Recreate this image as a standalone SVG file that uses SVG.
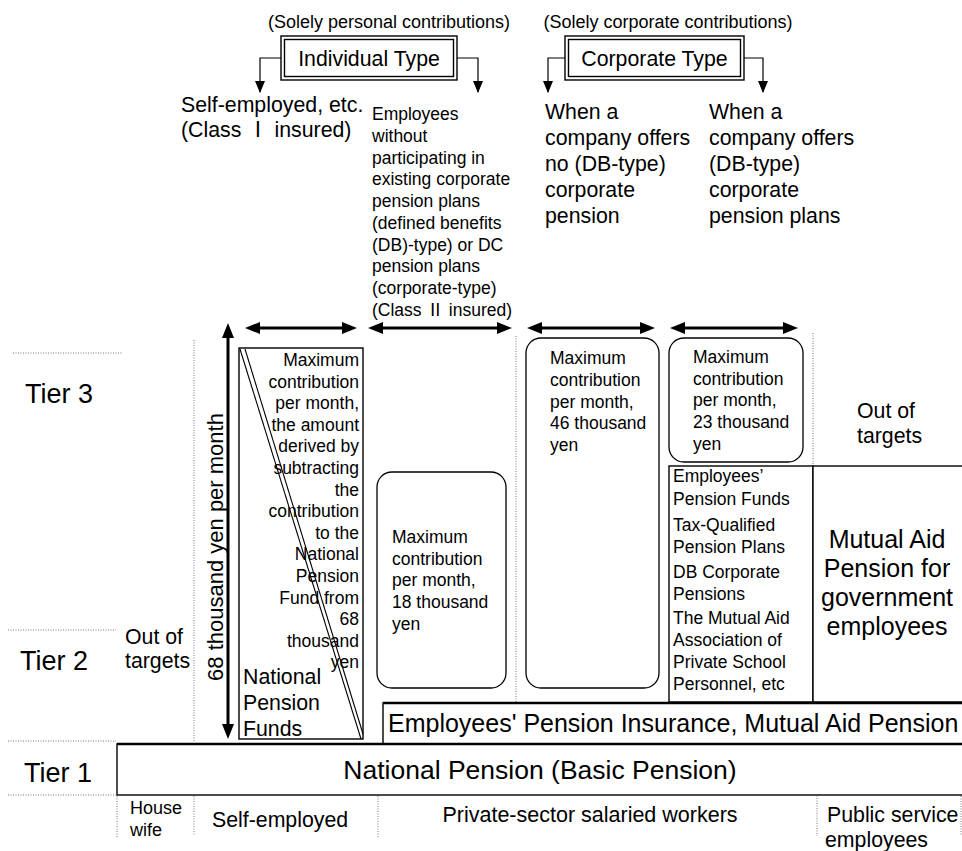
<svg xmlns="http://www.w3.org/2000/svg" width="962" height="851" viewBox="0 0 962 851">
<style>
text{font-family:"Liberation Sans",Arial,"Noto Sans CJK JP",sans-serif;fill:#000}
.t18{font-size:18px}
.t17{font-size:17.5px}
.t21{font-size:21.3px}
.t25{font-size:25px}
.t27{font-size:27px}
.box{fill:#fff;stroke:#000;stroke-width:1.4}
.rbox{fill:#fff;stroke:#000;stroke-width:1.3}
.dot{stroke:#777;stroke-width:1;stroke-dasharray:1 1.5;fill:none}
.thin{fill:none;stroke:#000;stroke-width:1.2}
.thick{fill:none;stroke:#000;stroke-width:3}
.diag{stroke:#000;stroke-width:1.1;fill:none}
.mid{text-anchor:middle}
.end{text-anchor:end}
</style>
<defs>
<marker id="ah" markerUnits="userSpaceOnUse" markerWidth="10" markerHeight="12" refX="5" refY="11" orient="0" viewBox="0 0 10 12">
<path d="M0,0 L10,0 L5,12 z" fill="#000"/>
</marker>
<marker id="big" markerUnits="userSpaceOnUse" markerWidth="15" markerHeight="12" refX="5" refY="6" orient="auto-start-reverse" viewBox="0 0 15 12">
<path d="M0,0 L15,6 L0,12 z" fill="#000"/>
</marker>
</defs>
<rect width="962" height="851" fill="#fff"/>

<g id="tier-guides">
<line class="dot" x1="13" y1="353" x2="123" y2="353"/>
<line class="dot" x1="8" y1="630" x2="116" y2="630"/>
<line class="dot" x1="8" y1="741" x2="116" y2="741"/>
<line class="dot" x1="8" y1="795" x2="116" y2="795"/>
<line class="dot" x1="194" y1="340" x2="194" y2="741"/>
<line class="dot" x1="516" y1="336" x2="516" y2="703"/>
<line class="dot" x1="813" y1="333" x2="813" y2="466"/>
<line class="dot" x1="117" y1="796" x2="117" y2="838"/>
<line class="dot" x1="194" y1="796" x2="194" y2="836"/>
<line class="dot" x1="378" y1="796" x2="378" y2="838"/>
<line class="dot" x1="817" y1="793" x2="817" y2="836"/>
<line class="dot" x1="961" y1="796" x2="961" y2="836"/>
<text class="t27" x="25" y="403">Tier 3</text>
<text class="t27" x="20" y="670">Tier 2</text>
<text class="t27" x="24" y="782">Tier 1</text>
</g>

<g id="individual-type">
<text class="t18 mid" x="389" y="28">(Solely personal contributions)</text>
<rect class="box" x="281" y="36" width="176" height="44"/>
<rect class="box" x="284.5" y="39.5" width="169" height="37"/>
<text class="t21 mid" x="369" y="65.5">Individual Type</text>
</g>

<g id="corporate-type">
<text class="t18 mid" x="668" y="28">(Solely corporate contributions)</text>
<rect class="box" x="565" y="36" width="179" height="44"/>
<rect class="box" x="568.5" y="39.5" width="172" height="37"/>
<text class="t21 mid" x="654.5" y="65.5">Corporate Type</text>
</g>

<g id="head-self-employed">
<text class="t21" x="181" y="112">Self-employed, etc.</text>
<text class="t21" x="181" y="137">(Class Ⅰ insured)</text>
</g>

<g id="head-employees">
<text class="t17" x="372" y="120">Employees</text>
<text class="t17" x="372" y="142">without</text>
<text class="t17" x="372" y="164">participating in</text>
<text class="t17" x="372" y="185">existing corporate</text>
<text class="t17" x="372" y="207">pension plans</text>
<text class="t17" x="372" y="229">(defined benefits</text>
<text class="t17" x="372" y="251">(DB)-type) or DC</text>
<text class="t17" x="372" y="272">pension plans</text>
<text class="t17" x="372" y="294">(corporate-type)</text>
<text class="t17" x="372" y="316">(Class Ⅱ insured)</text>
</g>

<g id="head-no-db">
<text class="t21" x="545" y="119">When a</text>
<text class="t21" x="545" y="145">company offers</text>
<text class="t21" x="545" y="171">no (DB-type)</text>
<text class="t21" x="545" y="197">corporate</text>
<text class="t21" x="545" y="223">pension</text>
</g>

<g id="head-db">
<text class="t21" x="709" y="119">When a</text>
<text class="t21" x="709" y="145">company offers</text>
<text class="t21" x="709" y="171">(DB-type)</text>
<text class="t21" x="709" y="197">corporate</text>
<text class="t21" x="709" y="223">pension plans</text>
</g>

<g id="national-pension-funds">
<rect class="box" x="239" y="348" width="124" height="391"/>
<line class="diag" x1="240" y1="349" x2="361" y2="739"/>
<line class="diag" x1="245" y1="349" x2="363" y2="734"/>
<g class="t17 end">
<text x="359" y="366">Maximum</text>
<text x="359" y="387.6">contribution</text>
<text x="359" y="409.2">per month,</text>
<text x="359" y="430.8">the amount</text>
<text x="359" y="452.4">derived by</text>
<text x="359" y="474">subtracting</text>
<text x="359" y="495.6">the</text>
<text x="359" y="517.2">contribution</text>
<text x="359" y="538.8">to the</text>
<text x="359" y="560.4">National</text>
<text x="359" y="582">Pension</text>
<text x="359" y="603.6">Fund from</text>
<text x="359" y="625.2">68</text>
<text x="359" y="646.8">thousand</text>
<text x="359" y="668.4">yen</text>
</g>
<text class="t21" x="243" y="684">National</text>
<text class="t21" x="243" y="710">Pension</text>
<text class="t21" x="243" y="736">Funds</text>
</g>

<g id="max-18">
<rect class="rbox" x="377" y="472" width="129" height="216" rx="15"/>
<text class="t17" x="392" y="543">Maximum</text>
<text class="t17" x="392" y="565">contribution</text>
<text class="t17" x="392" y="586">per month,</text>
<text class="t17" x="392" y="608">18 thousand</text>
<text class="t17" x="392" y="630">yen</text>
</g>

<g id="max-46">
<rect class="rbox" x="526" y="338" width="133" height="350" rx="15"/>
<text class="t17" x="550" y="364">Maximum</text>
<text class="t17" x="550" y="386">contribution</text>
<text class="t17" x="550" y="408">per month,</text>
<text class="t17" x="550" y="429">46 thousand</text>
<text class="t17" x="550" y="451">yen</text>
</g>

<g id="max-23">
<rect class="rbox" x="669" y="338" width="134" height="124" rx="15"/>
<text class="t17" x="693" y="363">Maximum</text>
<text class="t17" x="693" y="385">contribution</text>
<text class="t17" x="693" y="406">per month,</text>
<text class="t17" x="693" y="428">23 thousand</text>
<text class="t17" x="693" y="450">yen</text>
</g>

<g id="out-of-targets-left">
<text class="t21" x="125" y="644">Out of</text>
<text class="t21" x="125" y="668">targets</text>
</g>

<g id="out-of-targets-right">
<text class="t21" x="857" y="418">Out of</text>
<text class="t21" x="857" y="443">targets</text>
</g>

<g id="corporate-plans">
<rect class="box" x="669" y="466" width="144" height="236"/>
<text class="t17" x="673" y="482">Employees’</text>
<text class="t17" x="673" y="505">Pension Funds</text>
<text class="t17" x="673" y="531">Tax-Qualified</text>
<text class="t17" x="673" y="553">Pension Plans</text>
<text class="t17" x="673" y="578">DB Corporate</text>
<text class="t17" x="673" y="600">Pensions</text>
<text class="t17" x="673" y="624">The Mutual Aid</text>
<text class="t17" x="673" y="646">Association of</text>
<text class="t17" x="673" y="668">Private School</text>
<text class="t17" x="673" y="690">Personnel, etc</text>
</g>

<g id="mutual-aid-gov">
<rect class="box" x="813" y="466" width="152" height="236"/>
<text class="t25 mid" x="887" y="548">Mutual Aid</text>
<text class="t25 mid" x="887" y="577">Pension for</text>
<text class="t25 mid" x="887" y="606">government</text>
<text class="t25 mid" x="887" y="635">employees</text>
</g>

<g id="employees-pension-insurance">
<rect class="box" x="383" y="703" width="582" height="41"/>
<line x1="383" y1="703" x2="962" y2="703" stroke="#000" stroke-width="2.5"/>
<text class="t25" x="388" y="732">Employees' Pension Insurance, Mutual Aid Pension</text>
</g>

<g id="national-pension">
<rect class="box" x="117" y="744" width="848" height="51"/>
<line x1="117" y1="744" x2="962" y2="744" stroke="#000" stroke-width="2.5"/>
<text class="mid" x="540" y="779" font-size="26.5">National Pension (Basic Pension)</text>
</g>

<g id="bottom-labels">
<text x="130" y="814" font-size="18">House</text>
<text x="130" y="836" font-size="18">wife</text>
<text class="t21" x="212" y="827">Self-employed</text>
<text class="mid" x="590" y="822" font-size="21.5">Private-sector salaried workers</text>
<text class="t21" x="827" y="822">Public service</text>
<text class="t21" x="825" y="847">employees</text>
</g>

<g id="amount-68">
<text class="mid" font-size="22" transform="translate(223,547) rotate(-90)">68 thousand yen per month</text>
</g>

<g id="connectors">
<path class="thin" d="M281,58 H260 V92" marker-end="url(#ah)"/>
<path class="thin" d="M457,58 H478 V92" marker-end="url(#ah)"/>
<path class="thin" d="M565,58 H548 V92" marker-end="url(#ah)"/>
<path class="thin" d="M744,58 H763 V92" marker-end="url(#ah)"/>
<line class="thick" x1="255" y1="328" x2="347" y2="328" marker-start="url(#big)" marker-end="url(#big)"/>
<line class="thick" x1="378" y1="328" x2="502" y2="328" marker-start="url(#big)" marker-end="url(#big)"/>
<line class="thick" x1="537" y1="328" x2="645" y2="328" marker-start="url(#big)" marker-end="url(#big)"/>
<line class="thick" x1="680" y1="328" x2="788" y2="328" marker-start="url(#big)" marker-end="url(#big)"/>
<line class="thick" x1="228" y1="333" x2="228" y2="729" marker-start="url(#big)" marker-end="url(#big)"/>
</g>
</svg>
